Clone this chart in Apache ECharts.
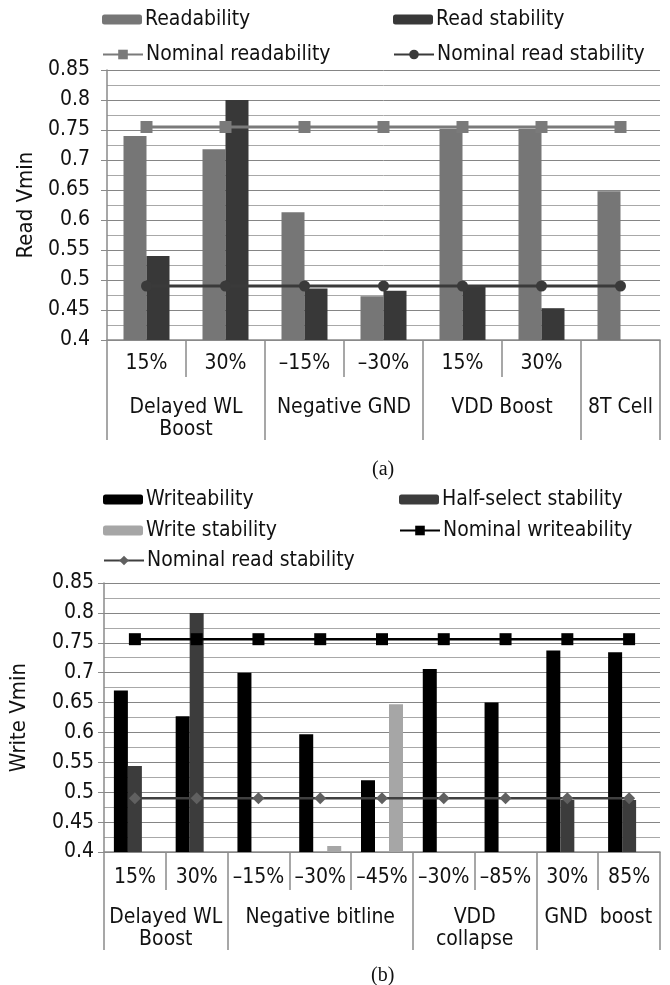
<!DOCTYPE html>
<html>
<head>
<meta charset="utf-8">
<script src="https://cdn.jsdelivr.net/npm/echarts@6/dist/echarts.min.js"></script>
<style>
html,body{margin:0;padding:0;background:#fff;}
#chart{width:670px;height:985px;}
</style>
</head>
<body>
<div id="chart"></div>
<script>
// ---------- Chart (a) data ----------
const subLabelsA = ['15%', '30%', '–15%', '–30%', '15%', '30%', ''];
const groupNamesA = ['Delayed WL\nBoost', 'Negative GND', 'VDD Boost', '8T Cell'];
const groupSpansA = [2, 2, 2, 1];
const readability = [0.740, 0.718, 0.613, 0.473, 0.752, 0.752, 0.648];
const readStability = [0.540, 0.800, 0.486, 0.482, 0.489, 0.453, null];
const nominalReadability = [0.755, 0.755, 0.755, 0.755, 0.755, 0.755, 0.755];
const nominalReadStabilityA = [0.49, 0.49, 0.49, 0.49, 0.49, 0.49, 0.49];

// ---------- Chart (b) data ----------
const subLabelsB = ['15%', '30%', '–15%', '–30%', '–45%', '–30%', '–85%', '30%', '85%'];
const groupNamesB = ['Delayed WL\nBoost', 'Negative bitline', 'VDD\ncollapse', 'GND  boost'];
const groupSpansB = [2, 3, 2, 2];
const writeability = [0.670, 0.627, 0.700, 0.597, 0.520, 0.706, 0.650, 0.737, 0.734];
const halfSelectStability = [0.544, 0.800, null, null, null, null, null, 0.487, 0.487];
const writeStability = [null, null, null, 0.410, 0.647, null, null, null, null];
const nominalWriteability = [0.756, 0.756, 0.756, 0.756, 0.756, 0.756, 0.756, 0.756, 0.756];
const nominalReadStabilityB = [0.49, 0.49, 0.49, 0.49, 0.49, 0.49, 0.49, 0.49, 0.49];

const yTicks = { min: 0.4, max: 0.85, interval: 0.05 };

const FONT = "'DejaVu Sans Condensed', 'DejaVu Sans', sans-serif";
const FS = 21;
const AXIS_COLOR = '#8a8a8a';

function groupInfo(spans, names) {
  const bounds = [0];
  const centers = [];
  const map = {};
  let acc = 0;
  spans.forEach((s, i) => {
    const c = acc + s / 2;
    centers.push(c);
    map[c.toFixed(2)] = names[i];
    acc += s;
    bounds.push(acc);
  });
  return { bounds, centers, map, total: acc };
}

function xAxesFor(gridIndex, subLabels, spans, names, cfg) {
  const g = groupInfo(spans, names);
  const subBounds = [];
  for (let i = 0; i <= subLabels.length; i++) subBounds.push(i);
  return [
    {
      type: 'category', gridIndex, position: 'bottom', offset: 0,
      data: subLabels,
      axisLine: { show: true, lineStyle: { color: AXIS_COLOR, width: 1.5 } },
      axisTick: { show: false },
      axisLabel: { margin: cfg.subMargin, color: '#111', fontSize: FS, fontFamily: FONT, interval: 0 },
      splitLine: { show: false }
    },
    {
      type: 'value', gridIndex, position: 'bottom', offset: 0,
      min: 0, max: g.total,
      axisLine: { show: false },
      axisTick: { show: true, customValues: subBounds, length: cfg.subTick, lineStyle: { color: AXIS_COLOR, width: 1.5 } },
      axisLabel: { show: false },
      splitLine: { show: false }
    },
    {
      type: 'value', gridIndex, position: 'bottom', offset: 0,
      min: 0, max: g.total,
      axisLine: { show: false },
      axisTick: { show: true, customValues: g.bounds, length: cfg.groupTick, lineStyle: { color: AXIS_COLOR, width: 1.5 } },
      axisLabel: {
        show: true, customValues: g.centers, margin: cfg.groupMargin,
        color: '#111', fontSize: FS, fontFamily: FONT, lineHeight: 22, align: 'center',
        formatter: (v) => g.map[Number(v).toFixed(2)] || ''
      },
      splitLine: { show: false }
    }
  ];
}

function yAxisFor(gridIndex, name, nameGap, labelMargin) {
  return {
    type: 'value', gridIndex,
    min: yTicks.min, max: yTicks.max, interval: yTicks.interval,
    name, nameLocation: 'middle', nameGap,
    nameTextStyle: { color: '#111', fontSize: 22, fontFamily: FONT },
    axisLine: { show: true, lineStyle: { color: AXIS_COLOR, width: 1.5 } },
    axisTick: { show: true, length: 6, lineStyle: { color: AXIS_COLOR } },
    axisLabel: { color: '#111', fontSize: FS, fontFamily: FONT, margin: labelMargin,
      formatter: (v) => String(Math.round(v * 100) / 100) },
    splitLine: { show: true, lineStyle: { color: '#858585', width: 1 } },
    minorTick: { show: false, splitNumber: 2 },
    minorSplitLine: { show: true, lineStyle: { color: '#a8a8a8', width: 1 } }
  };
}

function legendItem(name, left, top, isLine) {
  return {
    data: [name], left, top,
    orient: 'horizontal',
    itemWidth: 40, itemHeight: isLine ? 12 : 10,
    itemGap: 0, padding: 0,
    selectedMode: false,
    textStyle: { color: '#111', fontSize: FS, fontFamily: FONT, padding: [0, 0, 0, -2] }
  };
}

const xA = xAxesFor(0, subLabelsA, groupSpansA, groupNamesA, { subMargin: 13, subTick: 37, groupTick: 100, groupMargin: 57 });
const xB = xAxesFor(1, subLabelsB, groupSpansB, groupNamesB, { subMargin: 15, subTick: 38, groupTick: 98, groupMargin: 55 });

const option = {
  animation: false,
  backgroundColor: '#fff',
  grid: [
    { left: 107, top: 70, width: 553, height: 270 },
    { left: 100, top: 583, width: 560, height: 269 }
  ],
  legend: [
    legendItem('Readability', 102, 9, false),
    legendItem('Read stability', 393, 9, false),
    legendItem('Nominal readability', 102, 44, true),
    legendItem('Nominal read stability', 393, 44, true),
    legendItem('Writeability', 103, 489, false),
    legendItem('Half-select stability', 399, 489, false),
    legendItem('Write stability', 103, 520, false),
    legendItem('Nominal writeability', 399, 520, true),
    legendItem('Nominal read stability ', 103, 550, true)
  ],
  xAxis: xA.concat(xB),
  yAxis: [
    yAxisFor(0, 'Read Vmin', 70, 17),
    yAxisFor(1, 'Write Vmin', 74, 10)
  ],
  title: [
    { text: '(a)', left: 367, top: 455, textStyle: { fontFamily: "'Liberation Serif', serif", fontSize: 20, fontWeight: 'normal', color: '#111' } },
    { text: '(b)', left: 366, top: 961, textStyle: { fontFamily: "'Liberation Serif', serif", fontSize: 20, fontWeight: 'normal', color: '#111' } }
  ],
  series: [
    { name: 'Readability', type: 'bar', xAxisIndex: 0, yAxisIndex: 0, data: readability, barWidth: 23, barGap: '0%',
      itemStyle: { color: '#767676' } },
    { name: 'Read stability', type: 'bar', xAxisIndex: 0, yAxisIndex: 0, data: readStability, barWidth: 23, barGap: '0%',
      itemStyle: { color: '#383838' } },
    { name: 'Nominal readability', type: 'line', xAxisIndex: 0, yAxisIndex: 0, data: nominalReadability,
      symbol: 'rect', symbolSize: 12, lineStyle: { color: '#7a7a7a', width: 3 }, itemStyle: { color: '#7a7a7a' }, z: 5 },
    { name: 'Nominal read stability', type: 'line', xAxisIndex: 0, yAxisIndex: 0, data: nominalReadStabilityA,
      symbol: 'circle', symbolSize: 11, lineStyle: { color: '#3a3a3a', width: 3 }, itemStyle: { color: '#3a3a3a' }, z: 5 },

    { name: 'Writeability', type: 'bar', xAxisIndex: 3, yAxisIndex: 1, data: writeability, barWidth: 14, barGap: '0%',
      itemStyle: { color: '#000' } },
    { name: 'Half-select stability', type: 'bar', xAxisIndex: 3, yAxisIndex: 1, data: halfSelectStability, barWidth: 14, barGap: '0%',
      itemStyle: { color: '#3c3c3c' } },
    { name: 'Write stability', type: 'bar', xAxisIndex: 3, yAxisIndex: 1, data: writeStability, barWidth: 14, barGap: '0%',
      itemStyle: { color: '#a6a6a6' } },
    { name: 'Nominal writeability', type: 'line', xAxisIndex: 3, yAxisIndex: 1, data: nominalWriteability,
      symbol: 'rect', symbolSize: 12, lineStyle: { color: '#000', width: 2.5 }, itemStyle: { color: '#000' }, z: 5 },
    { name: 'Nominal read stability ', type: 'line', xAxisIndex: 3, yAxisIndex: 1, data: nominalReadStabilityB,
      symbol: 'diamond', symbolSize: 12, lineStyle: { color: '#404040', width: 2.5 }, itemStyle: { color: '#606060' }, z: 5 }
  ]
};

const chart = echarts.init(document.getElementById('chart'), null, { renderer: 'canvas' });
chart.setOption(option);
</script>
</body>
</html>
